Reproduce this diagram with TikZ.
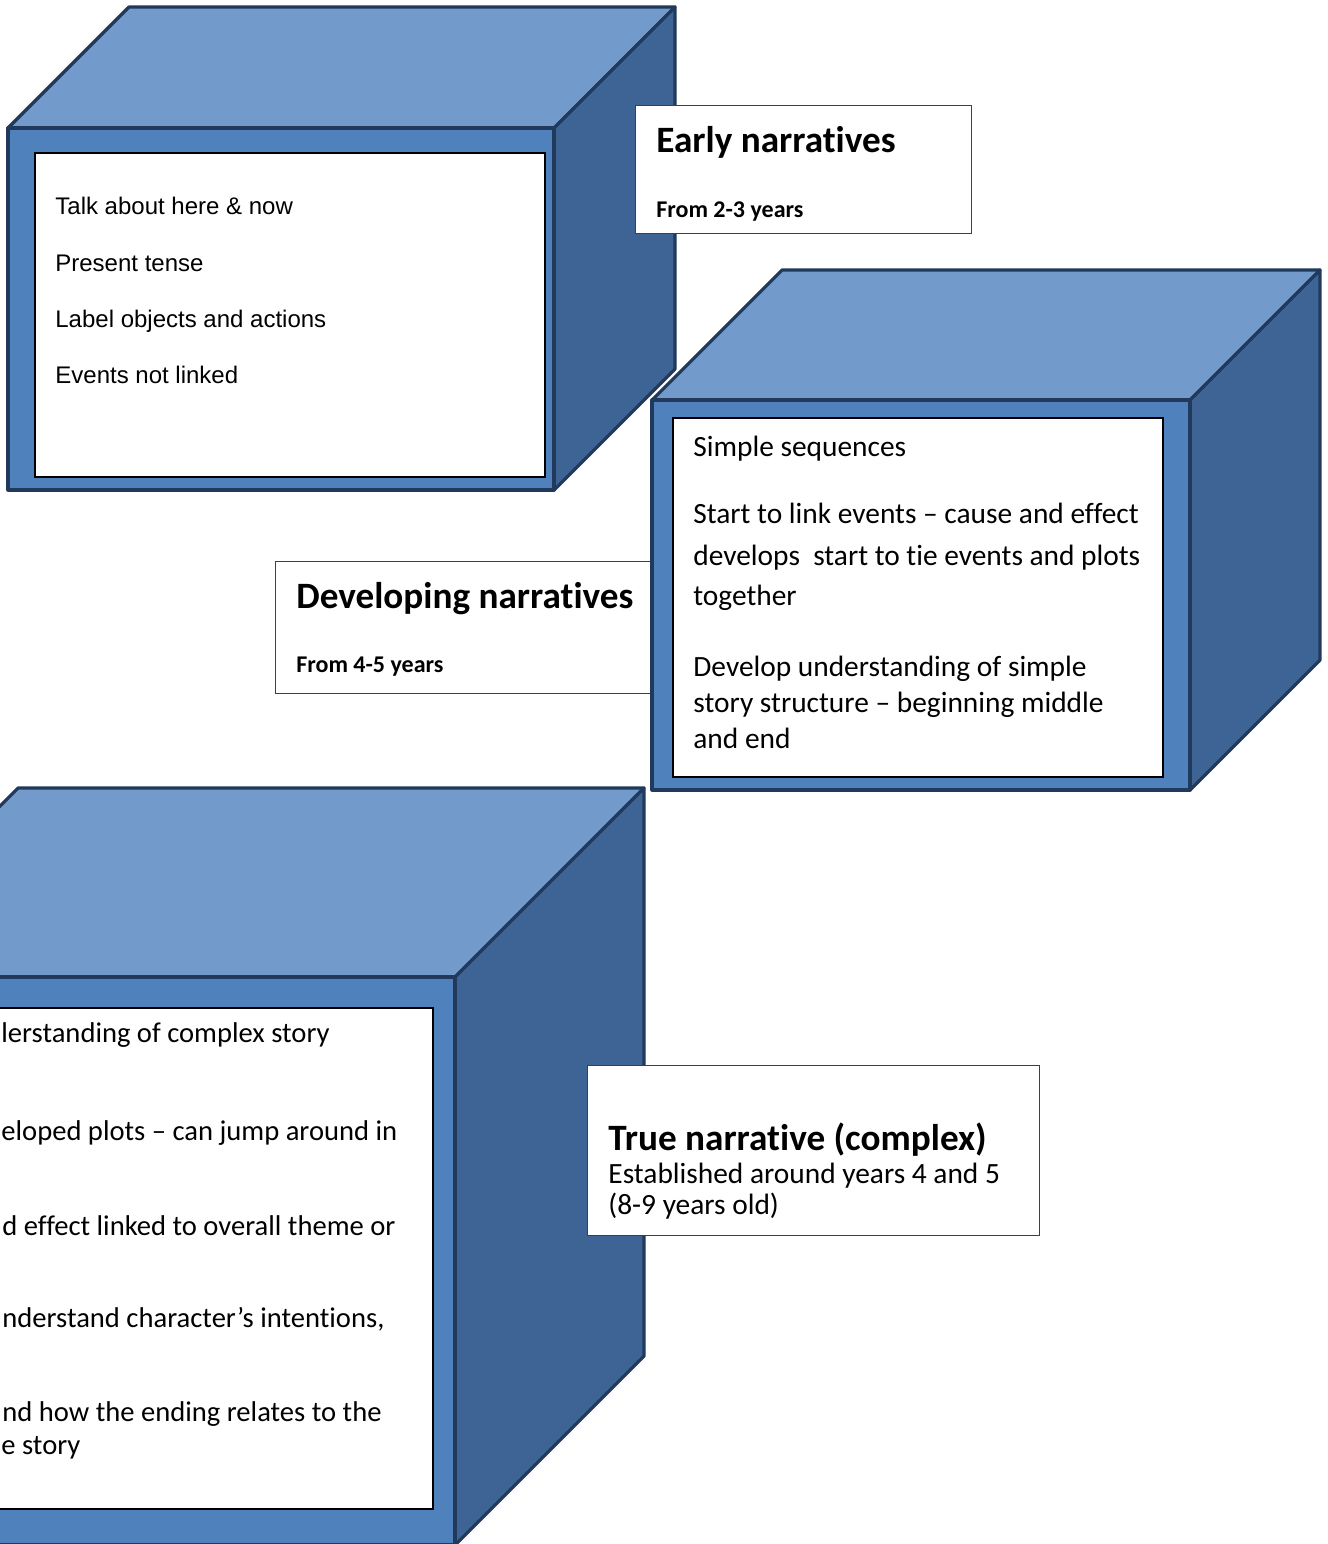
\documentclass[tikz,border=0pt]{standalone}
\usepackage{fontspec}
\setmainfont{Carlito}[Ligatures={NoCommon}]
\newfontfamily\arialfont{Liberation Sans}
\definecolor{topc}{HTML}{729ACB}
\definecolor{frontc}{HTML}{4F81BD}
\definecolor{sidec}{HTML}{3E6496}
\definecolor{edgec}{HTML}{213A5C}
\tikzset{
  cubeline/.style={draw=edgec, line width=1.6pt, line join=round},
  innerbox/.style={draw=black, fill=white, line width=0.7pt},
  labelbox/.style={draw=black!75, fill=white, line width=0.5pt},
  txtA/.style={anchor=base west, inner sep=0pt, font=\arialfont\fontsize{12}{14}\selectfont},
  txtC/.style={anchor=base west, inner sep=0pt, font=\fontsize{14.7}{17}\selectfont},
  txtD/.style={anchor=base west, inner sep=0pt, font=\fontsize{14.3}{17}\selectfont},
  ttl/.style={anchor=base west, inner sep=0pt, font=\bfseries\fontsize{18.6}{22}\selectfont},
  subttl/.style={anchor=base west, inner sep=0pt, font=\bfseries\fontsize{12}{14}\selectfont},
}
\newcommand\drawcube[5]{%
  \filldraw[cubeline, fill=topc] (#1,#2) -- (#3,#2) -- ({#3+#5},{#2-#5}) -- ({#1+#5},{#2-#5}) -- cycle;
  \filldraw[cubeline, fill=sidec] (#3,#2) -- ({#3+#5},{#2-#5}) -- ({#3+#5},{#4-#5}) -- (#3,#4) -- cycle;
  \filldraw[cubeline, fill=frontc] (#1,#2) rectangle (#3,#4);
}
\begin{document}
\begin{tikzpicture}[x=0.5pt,y=-0.5pt]
\useasboundingbox (0,0) rectangle (1328,1544);
\fill[white] (0,0) rectangle (1328,1544);
\clip (0,0) rectangle (1328,1544);

% Cube 1
\drawcube{8}{128}{554}{490}{121}
\path[innerbox] (35,153) rectangle (545,477);
\node[txtA] (c1a) at (55,214) {Talk about here \& now};
\node[txtA] (c1b) at (55,271) {Present tense};
\node[txtA] (c1c) at (55,327) {Label objects and actions};
\node[txtA] (c1d) at (55,383) {Events not linked};

% Label 1
\path[labelbox] (635,105) rectangle (971,233);
\node[ttl] (t1) at (656,152) {Early narratives};
\node[subttl] (s1) at (656,217) {From 2-3 years};

% Label 2
\path[labelbox] (275,561) rectangle (690,693);
\node[ttl] (t2) at (296,608) {Developing narratives};
\node[subttl] (s2) at (296,672) {From 4-5 years};

% Cube 2
\drawcube{652}{400}{1190}{790}{130}
\path[innerbox] (673,418) rectangle (1163,777);
\node[txtC] (c2a) at (693,456) {Simple sequences};
\node[txtC] (c2b) at (693,523) {Start to link events – cause and effect};
\node[txtC] (c2c) at (693,565) {develops~~start to tie events and plots};
\node[txtC] (c2d) at (693,605) {together};
\node[txtC] (c2e) at (693,676) {Develop understanding of simple};
\node[txtC] (c2f) at (693,712) {story structure – beginning middle};
\node[txtC] (c2g) at (693,748) {and end};

% Cube 3
\drawcube{-171}{977}{455}{1545}{189}
\path[innerbox] (-149,1008) rectangle (433,1509);
\node[txtD] (c3a) at (1,1042) {lerstanding of complex story};
\node[txtD] (c3b) at (1,1140) {eloped plots – can jump around in};
\node[txtD] (c3c) at (2,1235) {d effect linked to overall theme or};
\node[txtD] (c3d) at (2,1327) {nderstand character’s intentions,};
\node[txtD] (c3e) at (2,1421) {nd how the ending relates to the};
\node[txtD] (c3f) at (1,1454) {e story};

% Label 3
\path[labelbox] (587,1065) rectangle (1039,1235);
\node[ttl] (t3) at (608,1150) {True narrative (complex)};
\node[txtC] (b3a) at (608,1183) {Established around years 4 and 5};
\node[txtC] (b3b) at (608,1214) {(8-9 years old)};
\end{tikzpicture}
\end{document}
